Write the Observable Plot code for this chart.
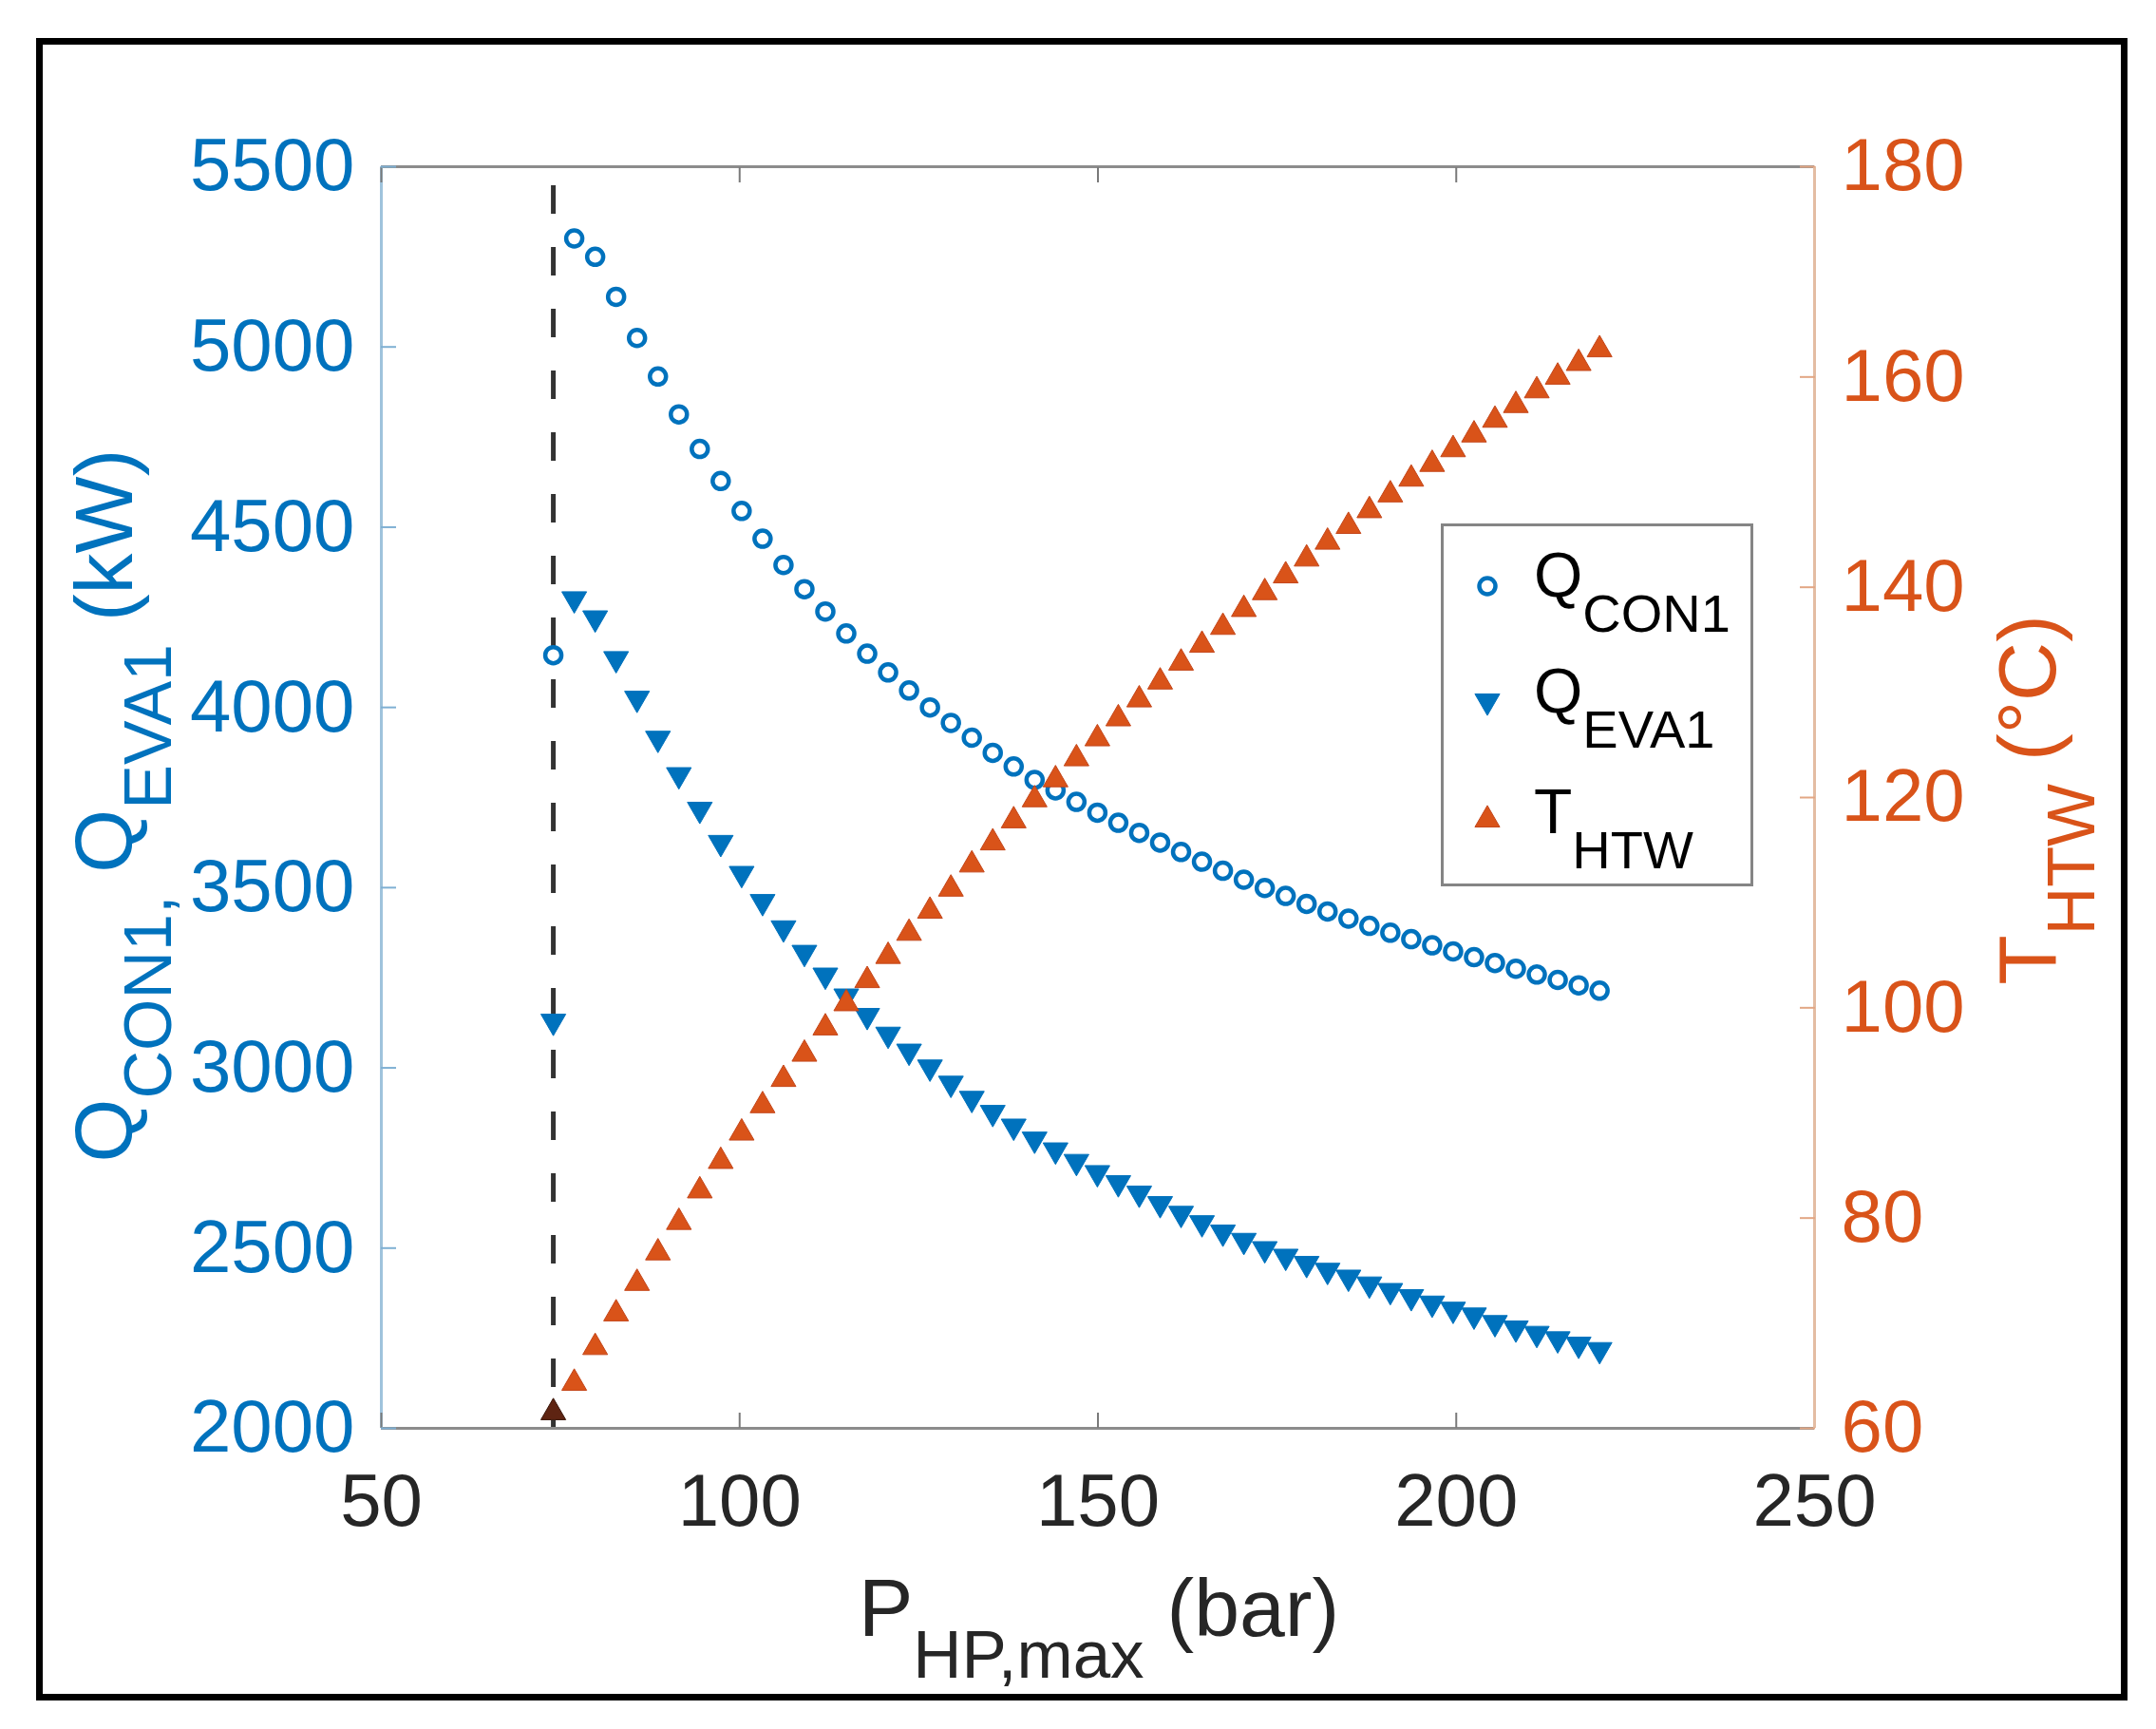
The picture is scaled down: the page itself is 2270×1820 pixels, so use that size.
<!DOCTYPE html>
<html>
<head>
<meta charset="utf-8">
<script src="https://cdn.jsdelivr.net/npm/d3@7"></script>
<script src="https://cdn.jsdelivr.net/npm/@observablehq/plot@0.6"></script>
<style>
  html, body { margin: 0; padding: 0; background: #fff; }
  #chart { position: relative; width: 2270px; height: 1820px; }
  #chart > svg { position: absolute; left: 0; top: 0; }
</style>
</head>
<body>
<div id="chart"></div>
<script>
// maximum high pressure (bar), first point = critical pressure
const pressure = [74, 76.92, 79.84, 82.76, 85.68, 88.6, 91.52, 94.44, 97.36, 100.28,
  103.2, 106.12, 109.04, 111.96, 114.88, 117.8, 120.72, 123.64, 126.56, 129.48,
  132.4, 135.32, 138.24, 141.16, 144.08, 147, 149.92, 152.84, 155.76, 158.68,
  161.6, 164.52, 167.44, 170.36, 173.28, 176.2, 179.12, 182.04, 184.96, 187.88,
  190.8, 193.72, 196.64, 199.56, 202.48, 205.4, 208.32, 211.24, 214.16, 217.08, 220]

// condenser heat (kW)
const qCon = [4145, 5301, 5250, 5139, 5025, 4918, 4813, 4717, 4628, 4545,
  4468, 4395, 4328, 4266, 4205, 4149, 4097, 4047, 4000, 3957,
  3916, 3874, 3836, 3799, 3770, 3738, 3708, 3680, 3652, 3625,
  3599, 3572, 3547, 3522, 3499, 3477, 3455, 3434, 3414, 3394,
  3375, 3357, 3340, 3323, 3307, 3291, 3275, 3259, 3244, 3229, 3214]

// evaporator heat (kW)
const qEva = [3129, 4301, 4248, 4135, 4025, 3914, 3813, 3717, 3625, 3539,
  3461, 3388, 3320, 3257, 3199, 3145, 3093, 3046, 3002, 2957,
  2915, 2876, 2838, 2802, 2772, 2740, 2709, 2681, 2652, 2623,
  2596, 2570, 2544, 2521, 2498, 2477, 2457, 2438, 2419, 2400,
  2382, 2365, 2347, 2330, 2314, 2293, 2278, 2263, 2248, 2233, 2218]

// hot water temperature (°C)
const tHtw = [61.5, 64.3, 67.7, 70.9, 73.8, 76.7, 79.6, 82.6, 85.4, 88.1,
  90.7, 93.2, 95.6, 98.1, 100.4, 102.6, 104.9, 107.1, 109.2, 111.3,
  113.6, 115.7, 117.8, 119.8, 121.7, 123.7, 125.6, 127.5, 129.3, 131.0,
  132.8, 134.5, 136.2, 137.9, 139.5, 141.1, 142.7, 144.3, 145.8, 147.3,
  148.8, 150.3, 151.7, 153.1, 154.5, 155.9, 157.3, 158.7, 160.0, 161.3, 162.6]

const critP = [74]
const xTicks = [50, 100, 150, 200, 250]
const qTicks = [2000, 2500, 3000, 3500, 4000, 4500, 5000, 5500]
const tTicks = [60, 80, 100, 120, 140, 160, 180]
const xDomain = [50, 250]
const qDomain = [2000, 5500]
const tDomain = [60, 180]

const blue = "#0072BD"
const orange = "#D95319"
const font = "'Liberation Sans', Arial, Helvetica, sans-serif"

const W = 2270, H = 1820
const margins = {marginLeft: 401, marginRight: W - 1910, marginTop: 175, marginBottom: H - 1503}

const rows = pressure.map((p, i) => ({p, qc: qCon[i], qe: qEva[i], t: tHtw[i], crit: i === 0}))

const baseStyle = {background: "transparent", fontFamily: font, fontSize: "78px", overflow: "visible"}

// left axis: heat flows
let leftPlot = Plot.plot({
  width: W, height: H, ...margins,
  style: baseStyle,
  x: {domain: xDomain},
  y: {domain: qDomain},
  marks: [
    Plot.ruleX(critP, {x: d => d, stroke: "#333", strokeWidth: 5, strokeDasharray: "30,35", strokeDashoffset: 45}),
    Plot.ruleY([qDomain[1]], {stroke: "#8c8c8c", strokeWidth: 3}),
    Plot.ruleY([qDomain[0]], {stroke: "#8c8c8c", strokeWidth: 3}),
    Plot.ruleX([xDomain[0]], {stroke: "#9fc3dc", strokeWidth: 3}),
    Plot.axisX(xTicks, {anchor: "bottom", tickSize: -16, tickFormat: () => "", color: "#7a7a7a", strokeWidth: 2, label: null}),
    Plot.axisX(xTicks, {anchor: "top", tickSize: -16, tickFormat: () => "", color: "#7a7a7a", strokeWidth: 2, label: null}),
    Plot.axisX(xTicks, {anchor: "bottom", tickSize: 0, tickPadding: 47, tickFormat: d => String(d), color: "#262626", label: null}),
    Plot.axisY(qTicks, {anchor: "left", tickSize: -16, tickFormat: () => "", color: "#7fb0d3", strokeWidth: 2, label: null}),
    Plot.axisY(qTicks, {anchor: "left", tickSize: 0, tickPadding: 28, tickFormat: d => String(d), color: blue, label: null}),
    Plot.dot(rows, {x: "p", y: "qc", r: 8.5, stroke: blue, strokeWidth: 4.5, fill: "white"}),
    Plot.dot(rows, {x: "p", y: "qe", symbol: "triangle", rotate: 180, r: 9.7, fill: blue, stroke: blue, strokeWidth: 1}),
  ]
})

// right axis: temperature
let rightPlot = Plot.plot({
  width: W, height: H, ...margins,
  style: baseStyle,
  x: {domain: xDomain, axis: null},
  y: {domain: tDomain},
  marks: [
    Plot.ruleX([xDomain[1]], {stroke: "#e3bda3", strokeWidth: 3}),
    Plot.axisY(tTicks, {anchor: "right", tickSize: -16, tickFormat: () => "", color: "#e2a785", strokeWidth: 2, label: null}),
    Plot.axisY(tTicks, {anchor: "right", tickSize: 0, tickPadding: 28, tickFormat: d => String(d), color: orange, label: null}),
    Plot.dot(rows.filter(d => !d.crit), {x: "p", y: "t", symbol: "triangle", r: 9.7, fill: orange, stroke: "#c4461a", strokeWidth: 1}),
    Plot.dot(rows.filter(d => d.crit), {x: "p", y: "t", symbol: "triangle", r: 9.7, fill: "#5e2412", stroke: "#3a160a", strokeWidth: 1}),
  ]
})

// frame, axis titles and legend
const ov = d3.create("svg").attr("width", W).attr("height", H)
  .style("font-family", font).style("overflow", "visible")

ov.append("rect").attr("x", 41.5).attr("y", 43.5).attr("width", 2195).attr("height", 1743)
  .attr("fill", "none").attr("stroke", "#000").attr("stroke-width", 7)

function subText(g, parts, main, sub, shift) {
  // parts: [text, isSub]
  let prevSub = false
  parts.forEach(([txt, isSub]) => {
    let dy = 0
    if (isSub && !prevSub) dy = shift
    if (!isSub && prevSub) dy = -shift
    g.append("tspan").attr("dy", dy).attr("font-size", isSub ? sub : main).text(txt)
    prevSub = isSub
  })
}

// x title
let xt = ov.append("text").attr("x", 1157).attr("y", 1722).attr("text-anchor", "middle").attr("fill", "#262626")
subText(xt, [["P", false], ["HP,max", true], ["\u00a0(bar)", false]], 86, 71, 44)

// left title
let yl = ov.append("text").attr("transform", "translate(139,848) rotate(-90)").attr("text-anchor", "middle").attr("fill", blue)
subText(yl, [["Q", false], ["CON1,", true], ["\u00a0Q", false], ["EVA1", true], ["\u00a0(kW)", false]], 86, 70, 41)

// right title
let yr = ov.append("text").attr("transform", "translate(2164,842) rotate(-90)").attr("text-anchor", "middle").attr("fill", orange)
subText(yr, [["T", false], ["HTW", true], ["\u00a0(\u00b0C)", false]], 86, 70, 41)

// legend
const leg = ov.append("g")
leg.append("rect").attr("x", 1518.5).attr("y", 552.5).attr("width", 326).attr("height", 379)
  .attr("fill", "#fff").attr("stroke", "#858585").attr("stroke-width", 3)

const symArea = Math.PI * 9.7 * 9.7
const legItems = [
  {main: "Q", sub: "CON1", cy: 617, base: 628, kind: "circle"},
  {main: "Q", sub: "EVA1", cy: 738, base: 750, kind: "down"},
  {main: "T", sub: "HTW", cy: 863, base: 877, kind: "up"},
]
legItems.forEach(it => {
  if (it.kind === "circle") {
    leg.append("circle").attr("cx", 1566).attr("cy", it.cy).attr("r", 8.5)
      .attr("fill", "white").attr("stroke", blue).attr("stroke-width", 4.5)
  } else {
    leg.append("path").attr("d", d3.symbol(d3.symbolTriangle, symArea)())
      .attr("transform", `translate(1566,${it.cy}) rotate(${it.kind === "down" ? 180 : 0})`)
      .attr("fill", it.kind === "down" ? blue : orange)
      .attr("stroke", it.kind === "down" ? blue : "#c4461a").attr("stroke-width", 1)
  }
  let t = leg.append("text").attr("x", 1615).attr("y", it.base).attr("fill", "#000")
  subText(t, [[it.main, false], [it.sub, true]], 66, 56, 37)
})

const host = d3.select("#chart")
host.append(() => leftPlot)
host.append(() => rightPlot)
host.append(() => ov.node())
</script>
</body>
</html>
